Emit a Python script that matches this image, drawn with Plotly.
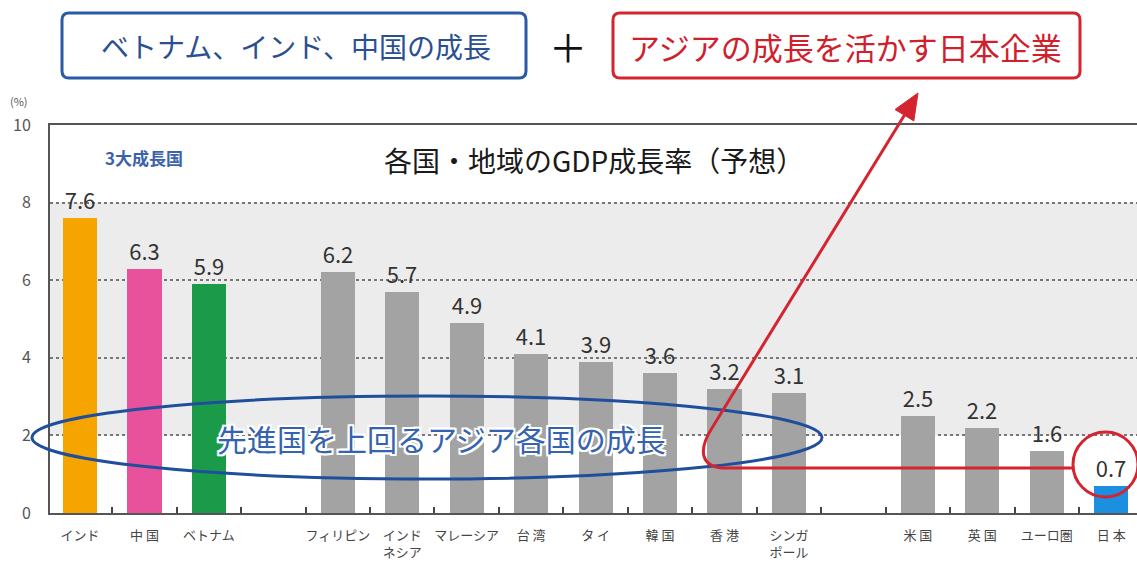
import plotly.graph_objects as go

# ---- data ----
categories = ["インド", "中 国", "ベトナム", " ", "フィリピン", "インド<br>ネシア", "マレーシア",
              "台 湾", "タ イ", "韓 国", "香 港", "シンガ<br>ポール", "  ", "米 国", "英 国",
              "ユーロ圏", "日 本"]
values = [7.6, 6.3, 5.9, None, 6.2, 5.7, 4.9, 4.1, 3.9, 3.6, 3.2, 3.1, None, 2.5, 2.2, 1.6, 0.7]
bar_colors = ["#f5a400", "#e8529c", "#1b9a4a", "#a3a3a3", "#a3a3a3", "#a3a3a3", "#a3a3a3",
              "#a3a3a3", "#a3a3a3", "#a3a3a3", "#a3a3a3", "#a3a3a3", "#a3a3a3", "#a3a3a3",
              "#a3a3a3", "#a3a3a3", "#1d8fe1"]
y_ticks = [0, 2, 4, 6, 8, 10]
value_text = ["" if v is None else f"{v:.1f}" for v in values]

W, H = 1137, 568
L, R, T, B = 50, 0, 125, 55
PW, PH = W - L - R, H - T - B

def px(x):
    return (x - L) / PW

def py(y):
    return (H - B - y) / PH

FONT = "Noto Sans CJK JP"

fig = go.Figure()
fig.add_trace(go.Bar(
    x=categories, y=values, marker=dict(color=bar_colors, line=dict(width=0)),
    width=0.53, text=value_text, textposition="outside",
    textfont=dict(size=22, color="#333333", family=FONT), cliponaxis=False,
    hoverinfo="skip",
))

shapes = []
# gray band 2-8
shapes.append(dict(type="rect", xref="paper", yref="y", x0=0, x1=1, y0=2, y1=8,
                   fillcolor="#ececec", line=dict(width=0), layer="below"))

def rrect(x0, y0, x1, y1, r):
    pts = (f"M {px(x0+r)} {py(y0)} L {px(x1-r)} {py(y0)} Q {px(x1)} {py(y0)} {px(x1)} {py(y0+r)} "
           f"L {px(x1)} {py(y1-r)} Q {px(x1)} {py(y1)} {px(x1-r)} {py(y1)} "
           f"L {px(x0+r)} {py(y1)} Q {px(x0)} {py(y1)} {px(x0)} {py(y1-r)} "
           f"L {px(x0)} {py(y0+r)} Q {px(x0)} {py(y0)} {px(x0+r)} {py(y0)} Z")
    return pts

shapes.append(dict(type="path", xref="paper", yref="paper", path=rrect(62, 13, 526, 78, 7),
                   line=dict(color="#2a59a6", width=3), fillcolor="rgba(0,0,0,0)"))
shapes.append(dict(type="path", xref="paper", yref="paper", path=rrect(613, 13, 1080, 78, 7),
                   line=dict(color="#d4242f", width=3), fillcolor="rgba(0,0,0,0)"))

# blue ellipse
shapes.append(dict(type="circle", xref="paper", yref="paper", x0=px(32), x1=px(822),
                   y0=py(396), y1=py(479), line=dict(color="#1f4f9c", width=3), layer="above"))

# red circle around Japan
shapes.append(dict(type="circle", xref="paper", yref="paper", x0=px(1073), x1=px(1138),
                   y0=py(432), y1=py(497), line=dict(color="#d4242f", width=3), layer="above"))

# red connecting line
red_path = (f"M {px(1074)} {py(468)} L {px(726)} {py(468)} "
            f"C {px(700)} {py(468)} {px(698)} {py(450)} {px(712)} {py(428)} "
            f"L {px(904.4)} {py(115.2)}")
shapes.append(dict(type="path", xref="paper", yref="paper", path=red_path,
                   line=dict(color="#d4242f", width=3), layer="above"))
head = (f"M {px(918)} {py(93)} L {px(913.8)} {py(120.9)} L {px(895.0)} {py(109.5)} Z")
shapes.append(dict(type="path", xref="paper", yref="paper", path=head,
                   line=dict(color="#d4242f", width=1), fillcolor="#d4242f", layer="above"))

def note(text, x, y, size, color, **kw):
    return dict(text=text, x=px(x), y=py(y), xref="paper", yref="paper", showarrow=False,
                xanchor="center", yanchor="middle",
                font=dict(size=size, color=color, family=FONT, **kw))

annotations = [
    note("ベトナム、インド、中国の成長", 296, 46, 28, "#2a4f93"),
    note("アジアの成長を活かす日本企業", 845, 46, 31, "#d0202c"),
    note("＋", 568, 45, 38, "#111111"),
    note("(%)", 19, 101, 11, "#555555"),
    note("<b>3大成長国</b>", 144, 157, 17, "#3b62ab"),
    note("各国・地域のGDP成長率（予想）", 594, 160, 28, "#1a1a1a"),
    note("先進国を上回るアジア各国の成長", 441, 438, 30, "#3563b0",
         shadow="2px 0 0 #fff, -2px 0 0 #fff, 0 2px 0 #fff, 0 -2px 0 #fff, "
                "2px 2px 0 #fff, -2px -2px 0 #fff, 2px -2px 0 #fff, -2px 2px 0 #fff"),
]

fig.update_layout(
    width=W, height=H, margin=dict(l=L, r=R, t=T, b=B, autoexpand=False),
    paper_bgcolor="white", plot_bgcolor="white",
    font=dict(family=FONT, color="#333333"),
    showlegend=False, shapes=shapes, annotations=annotations, bargap=0,
    xaxis=dict(type="category", categoryorder="array", categoryarray=categories,
               range=[-0.465, 16.4], showline=True, linecolor="#555555", linewidth=2,
               mirror=True, ticks="inside", tickson="boundaries", ticklen=6,
               tickcolor="#444444", tickwidth=1.5, showgrid=False, tickangle=0,
               automargin=False, ticklabelstandoff=9,
               tickfont=dict(size=13, color="#444444", family=FONT), fixedrange=True),
    yaxis=dict(range=[0, 10], tickvals=y_ticks, showline=True, linecolor="#555555",
               linewidth=2, ticks="", showgrid=True, gridcolor="#777777", griddash="dot",
               gridwidth=1.5, zeroline=False, automargin=False,
               tickfont=dict(size=16, color="#555555", family=FONT), ticklabelstandoff=14),
)

fig.write_html("out.html", config={"displayModeBar": False},
               post_script="document.body.style.margin='0';document.body.style.overflow='hidden';")
